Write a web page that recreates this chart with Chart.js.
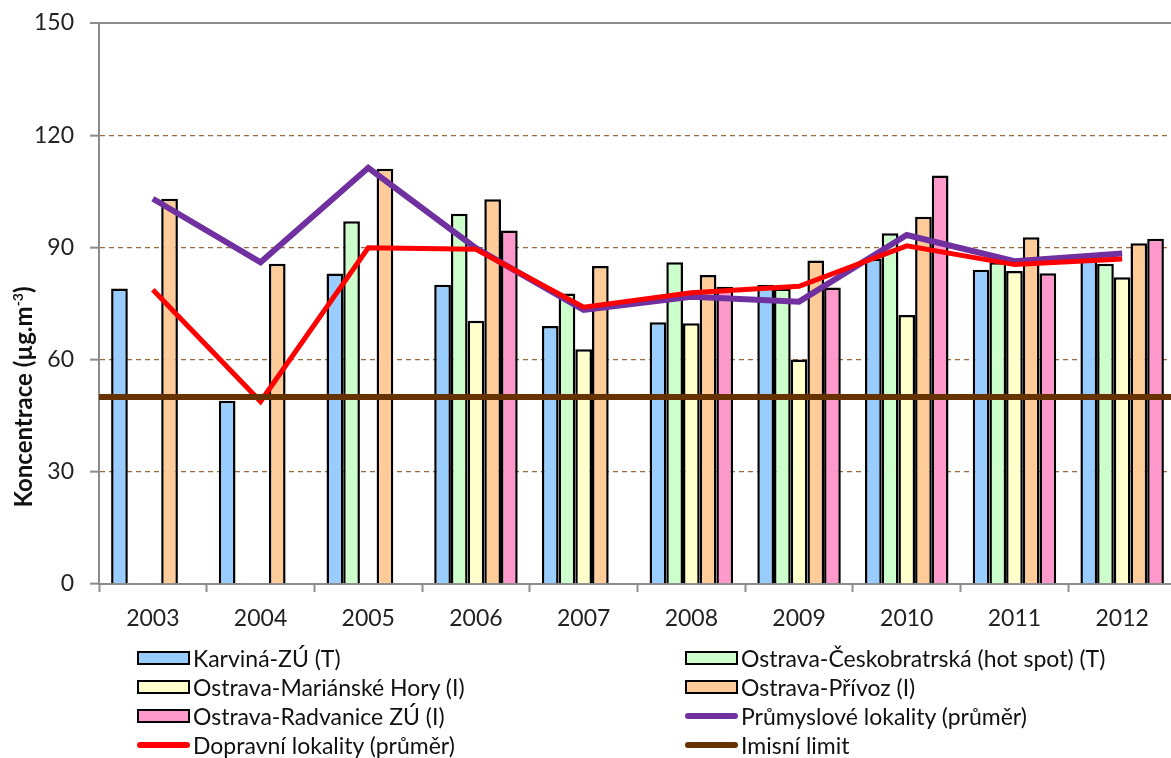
<!DOCTYPE html>
<html>
<head>
<meta charset="utf-8">
<script src="https://cdn.jsdelivr.net/npm/chart.js@4.4.1/dist/chart.umd.min.js"></script>
<style>
  html, body { margin: 0; padding: 0; background: #fff; overflow: hidden; width: 1171px; height: 758px; }
  #wrap { position: absolute; left: 0; top: 0; width: 1190px; height: 640px; }
  #ytitle { position: absolute; left: 22px; top: 397px; transform: translate(-50%, -50%) rotate(-90deg);
    font-family: Lato, sans-serif; font-weight: bold; font-size: 24px; color: #111; white-space: nowrap; }
  #ytitle sup { font-size: 14px; vertical-align: 9px; line-height: 0; }
  #legend { position: absolute; left: 0; top: 0; width: 1171px; height: 758px; pointer-events: none; }
  .item { position: absolute; display: flex; align-items: center; height: 29px;
    font-family: Lato, sans-serif; font-size: 23px; color: #111; white-space: nowrap; }
  .sw { width: 53px; margin-right: 3px; box-sizing: border-box; }
</style>
</head>
<body>
<div id="wrap"><canvas id="c"></canvas></div>
<div id="ytitle">Koncentrace (µg.m<sup>-3</sup>)</div>
<div id="legend"></div>
<script>
const years = ['2003','2004','2005','2006','2007','2008','2009','2010','2011','2012'];
const karvina       = [79, 49, 83, 80, 69, 70, 80, 87, 84, 87];
const ceskobratrska = [null, null, 97, 99, 77.7, 86, 79, 93.8, 86, 85.6];
const marianske     = [null, null, null, 70.4, 62.8, 69.7, 60, 71.9, 83.7, 82];
const privoz        = [103, 85.6, 111, 102.9, 85, 82.6, 86.5, 98.2, 92.7, 91.1];
const radvanice     = [null, null, null, 94.5, null, 79.5, 79.3, 109.2, 83.1, 92.3];
const prumyslove    = [103, 86, 111.3, 89.8, 73.3, 76.8, 75.5, 93.3, 86.3, 88.4];
const dopravni      = [78.7, 48.8, 89.9, 89.5, 74, 77.9, 79.6, 90.4, 85.4, 86.9];
const imisniLimit   = 50;
const yTicks = [0, 30, 60, 90, 120, 150];

const names = ['Karviná-ZÚ (T)', 'Ostrava-Českobratrská (hot spot) (T)', 'Ostrava-Mariánské Hory (I)',
  'Ostrava-Přívoz (I)', 'Ostrava-Radvanice ZÚ (I)', 'Průmyslové lokality (průměr)',
  'Dopravní lokality (průměr)', 'Imisní limit'];

function bar(label, data, color) {
  return { type: 'bar', label, data, backgroundColor: color, borderColor: '#000', borderWidth: 2.5,
    borderSkipped: 'bottom', order: 10, categoryPercentage: 0.775, barPercentage: 1.0 };
}

const datasets = [
  bar(names[0], karvina, '#99CCFF'),
  bar(names[1], ceskobratrska, '#CCFFCC'),
  bar(names[2], marianske, '#FFFFCC'),
  bar(names[3], privoz, '#FFCC99'),
  bar(names[4], radvanice, '#FF99CC'),
  { type: 'line', label: names[5], data: prumyslove, borderColor: '#7030A0', borderWidth: 6,
    pointRadius: 0, tension: 0, order: 3, fill: false },
  { type: 'line', label: names[6], data: dopravni, borderColor: '#FF0000', borderWidth: 5,
    pointRadius: 0, tension: 0, order: 2, fill: false },
  // limit series: drawn across the whole plot by the plugin below, at the y-scale value imisniLimit
  { type: 'line', label: names[7], data: [], limitValue: imisniLimit, borderColor: '#663300',
    borderWidth: 6, pointRadius: 0, order: 1, fill: false }
];

const limitPlugin = {
  id: 'limitLine',
  afterDatasetsDraw(chart) {
    const { ctx, chartArea, scales } = chart;
    chart.data.datasets.forEach(ds => {
      if (ds.limitValue === undefined) return;
      const y = scales.y.getPixelForValue(ds.limitValue);
      ctx.save();
      ctx.strokeStyle = ds.borderColor;
      ctx.lineWidth = ds.borderWidth;
      ctx.beginPath();
      ctx.moveTo(chartArea.left, y);
      ctx.lineTo(chartArea.right, y);
      ctx.stroke();
      ctx.restore();
    });
  }
};

const GRAY = '#8c8c8c';
const chart = new Chart(document.getElementById('c'), {
  type: 'bar',
  data: { labels: years, datasets },
  plugins: [limitPlugin],
  options: {
    responsive: true, maintainAspectRatio: false, animation: false,
    layout: { padding: { top: 23, right: 14, left: 0, bottom: 0 } },
    plugins: { legend: { display: false }, tooltip: { enabled: false } },
    scales: {
      x: {
        type: 'category', offset: true,
        grid: { offset: true, drawOnChartArea: false, color: GRAY, tickColor: GRAY, tickLength: 8, tickWidth: 2 },
        border: { color: GRAY, width: 2 },
        ticks: { font: { family: 'Lato', size: 23 }, color: '#222', padding: 13 },
        afterFit: s => { s.height = 56; }
      },
      y: {
        min: 0, max: 150,
        afterBuildTicks: s => { s.ticks = yTicks.map(v => ({ value: v })); },
        grid: {
          color: c => (c.tick && c.tick.value === 0) ? 'rgba(0,0,0,0)' : (c.tick && c.tick.value === 150 ? GRAY : '#9b6b3f'),
          lineWidth: c => (c.tick && c.tick.value === 150) ? 2 : 1.3,
          tickColor: GRAY, tickLength: 9, tickWidth: 2
        },
        border: { color: GRAY, width: 2, dash: c => (c.tick && c.tick.value !== 150) ? [5, 4] : [] },
        ticks: { font: { family: 'Lato', size: 23 }, color: '#222', padding: 16 },
        afterFit: s => { s.width = 99; s.paddingTop = 0; s.paddingBottom = 0; }
      }
    }
  }
});

// HTML legend built from the chart's datasets
const leg = document.getElementById('legend');
const cols = [137, 685];
const rowCenters = [658, 687, 716, 745];
chart.data.datasets.forEach((ds, i) => {
  const it = document.createElement('div');
  it.className = 'item';
  it.style.left = cols[i % 2] + 'px';
  it.style.top = (rowCenters[Math.floor(i / 2)] - 14.5) + 'px';
  const sw = document.createElement('div');
  sw.className = 'sw';
  if (ds.type === 'bar') {
    sw.style.height = '14px';
    sw.style.background = ds.backgroundColor;
    sw.style.border = '2px solid #000';
  } else {
    sw.style.height = '6px';
    sw.style.background = ds.borderColor;
    sw.style.borderRadius = '3px';
  }
  const tx = document.createElement('span');
  tx.textContent = ds.label;
  it.appendChild(sw); it.appendChild(tx);
  leg.appendChild(it);
});
</script>
</body>
</html>
